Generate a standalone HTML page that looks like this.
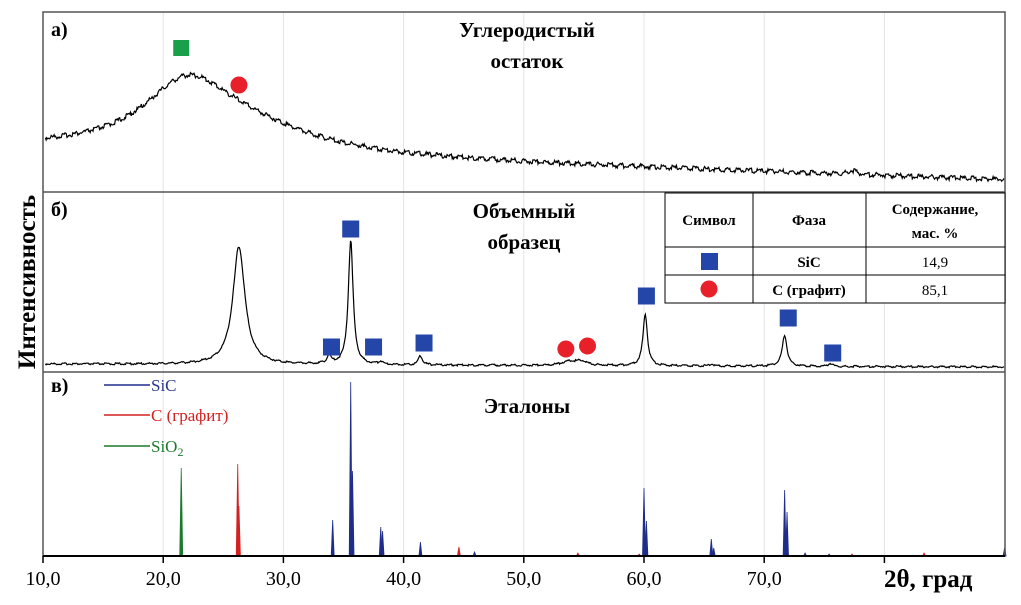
<!DOCTYPE html>
<html><head><meta charset="utf-8">
<style>
html,body{margin:0;padding:0;background:#fff;}
svg{display:block;font-family:"Liberation Serif","Noto Serif CJK SC",serif;}
</style></head>
<body>
<svg id="chart" width="1021" height="605" viewBox="0 0 1021 605" xmlns="http://www.w3.org/2000/svg">
<g id="grid"></g>
<g id="series"></g>
<g id="markers"></g>
<rect x="43" y="12" width="962" height="544" fill="none" stroke="#555" stroke-width="1.5"/>
<line x1="43" y1="192" x2="1005" y2="192" stroke="#555" stroke-width="1.5"/>
<line x1="43" y1="372" x2="1005" y2="372" stroke="#555" stroke-width="1.5"/>
<line x1="43" y1="556" x2="1005" y2="556" stroke="#000" stroke-width="2"/>
<g id="xticks"></g>
<text x="884" y="587" font-size="25" font-weight="bold">2θ, град</text>
<text transform="translate(35,282) rotate(-90)" text-anchor="middle" font-size="25" font-weight="bold">Интенсивность</text>
<text x="51" y="36" font-size="20" font-weight="bold">а)</text>
<text x="51" y="216" font-size="20" font-weight="bold">б)</text>
<text x="51" y="392" font-size="20" font-weight="bold">в)</text>
<text x="527" y="37" text-anchor="middle" font-size="21" font-weight="bold">Углеродистый</text>
<text x="527" y="68" text-anchor="middle" font-size="21" font-weight="bold">остаток</text>
<text x="524" y="218" text-anchor="middle" font-size="21" font-weight="bold">Объемный</text>
<text x="524" y="249" text-anchor="middle" font-size="21" font-weight="bold">образец</text>
<text x="527" y="413" text-anchor="middle" font-size="21" font-weight="bold">Эталоны</text>
<g>
<line x1="104" y1="385" x2="150" y2="385" stroke="#1f2d8a" stroke-width="1.5"/>
<text x="151" y="391" font-size="17" fill="#2a3590">SiC</text>
<line x1="104" y1="415" x2="150" y2="415" stroke="#d42020" stroke-width="1.5"/>
<text x="151" y="421" font-size="17" fill="#d42020">C (графит)</text>
<line x1="104" y1="446" x2="150" y2="446" stroke="#1d7a2c" stroke-width="1.5"/>
<text x="151" y="452" font-size="17" fill="#1d7a2c">SiO<tspan font-size="12" dy="4">2</tspan></text>
</g>
<g font-size="15">
<rect x="665" y="193" width="340" height="110" fill="#fff" stroke="#000" stroke-width="1"/>
<line x1="753" y1="193" x2="753" y2="303" stroke="#000"/>
<line x1="866" y1="193" x2="866" y2="303" stroke="#000"/>
<line x1="665" y1="247" x2="1005" y2="247" stroke="#000"/>
<line x1="665" y1="275" x2="1005" y2="275" stroke="#000"/>
<text x="709" y="225" text-anchor="middle" font-weight="bold">Символ</text>
<text x="809" y="225" text-anchor="middle" font-weight="bold">Фаза</text>
<text x="935" y="214" text-anchor="middle" font-weight="bold">Содержание,</text>
<text x="935" y="238" text-anchor="middle" font-weight="bold">мас. %</text>
<rect x="701" y="253" width="17" height="17" fill="#2446a8"/>
<text x="809" y="267" text-anchor="middle" font-weight="bold">SiC</text>
<text x="935" y="267" text-anchor="middle">14,9</text>
<circle cx="709" cy="289" r="8.5" fill="#e8202a"/>
<text x="809" y="295" text-anchor="middle" font-weight="bold">C (графит)</text>
<text x="935" y="295" text-anchor="middle">85,1</text>
</g>
</svg>
<script>
// ---- data ----
const xTicks = [10, 20, 30, 40, 50, 60, 70, 80];
const xTickLabels = ["10,0", "20,0", "30,0", "40,0", "50,0", "60,0", "70,0", ""];
// panel a: broad amorphous hump (pos, height px, width deg)
const aPeakPos = [22.0, 27.0, 77.3];
const aPeakHeight = [64, 22, 4];
const aPeakWidth = [4.5, 7, 0.4];
// panel b: sample peaks
const bPeakPos = [26.3, 33.8, 35.6, 38.1, 41.4, 53.8, 54.8, 60.1, 65.6, 71.7, 75.5];
const bPeakHeight = [118, 8, 124, 3, 9, 4, 4, 52, 2, 31, 3];
const bPeakWidth = [0.6, 0.2, 0.24, 0.2, 0.2, 0.8, 0.5, 0.22, 0.2, 0.24, 0.2];
// panel c: references (stick peaks)
const sicPos = [34.1, 35.6, 35.75, 38.1, 38.25, 41.4, 45.9, 60.0, 60.2, 65.6, 65.8, 71.7, 71.9, 73.4, 75.4, 90.0];
const sicHeight = [36, 174, 85, 29, 25, 14, 4, 68, 35, 17, 8, 66, 44, 3, 2, 8];
const grPos = [26.2, 26.3, 44.6, 54.5, 59.6, 77.3, 83.3];
const grHeight = [92, 50, 9, 3, 2, 2, 3];
const sioPos = [21.5, 35.6, 60.0];
const sioHeight = [88, 8, 2];
// markers
const sqA = [[21.5, 48]];
const circA = [[26.3, 85]];
const sqB = [[35.6, 229], [34.0, 347], [37.5, 347], [41.7, 343], [60.2, 296], [72.0, 318], [75.7, 353]];
const circB = [[53.5, 349], [55.3, 346]];

// ---- axes ----
const X = d => 43 + (d - 10) * 12.02;
const NS = "http://www.w3.org/2000/svg";
function mk(tag, attrs, parent) {
  const e = document.createElementNS(NS, tag);
  for (const k in attrs) e.setAttribute(k, attrs[k]);
  parent.appendChild(e); return e;
}
const grid = document.getElementById('grid');
const xt = document.getElementById('xticks');
xTicks.forEach((t, i) => {
  const g = mk('line', {x1: X(t), x2: X(t), y1: 12, y2: 556, stroke: '#e4e4e4', 'stroke-width': 1}, grid);
  
  
  const tk = mk('line', {x1: X(t), x2: X(t), y1: 556, y2: 563, stroke: '#000', 'stroke-width': 1.5}, xt);
  
  
  if (xTickLabels[i]) {
    const tx = mk('text', {x: X(t), y: 585, 'text-anchor': 'middle', 'font-size': 20}, xt);
    tx.textContent = xTickLabels[i];
    
    
  }
});

// small deterministic jitter for noisy look (visual texture only)
function jit(i, amp) { return amp * (Math.sin(i * 12.9898) * 43758.5453 % 1); }
function lor(x, p, h, w) { return h / (1 + Math.pow((x - p) / w, 2)); }

const ser = document.getElementById('series');
function curve(name, pos, hts, wds, base0, base1, noise) {
  let d = '';
  let i = 0;
  for (let x = 10.2; x <= 90; x += 0.06, i++) {
    let y = base0 + (base1 - base0) * (x - 10) / 80;
    for (let k = 0; k < pos.length; k++) y -= lor(x, pos[k], hts[k], wds[k]);
    y += jit(i, noise);
    d += (d ? 'L' : 'M') + X(x).toFixed(1) + ',' + y.toFixed(1);
  }
  const p = mk('path', {d: d, fill: 'none', stroke: '#000', 'stroke-width': 1.2}, ser);
  
  
}
curve('pattern-a-carbon-residue', aPeakPos, aPeakHeight, aPeakWidth, 149, 180, 2.5);
curve('pattern-b-bulk-sample', bPeakPos, bPeakHeight, bPeakWidth, 364, 367, 1.0);

function sticks(name, pos, hts, color) {
  pos.forEach((p, k) => {
    const x = X(p);
    const e = mk('path', {d: `M${x - 1.5},556 L${x},${556 - hts[k]} L${x + 1.5},556 Z`, fill: color, stroke: color, 'stroke-width': 0.8}, ser);
    
    
  });
}
sticks('reference-sio2-peak', sioPos, sioHeight, '#1d7a2c');
sticks('reference-graphite-peak', grPos, grHeight, '#d42020');
sticks('reference-sic-peak', sicPos, sicHeight, '#1f2d8a');

const mg = document.getElementById('markers');
sqA.forEach(([p, y]) => {
  const e = mk('rect', {x: X(p) - 8, y: y - 8, width: 16, height: 16, fill: '#1aa04a'}, mg);
  
  
});
sqB.forEach(([p, y]) => {
  const e = mk('rect', {x: X(p) - 8.5, y: y - 8.5, width: 17, height: 17, fill: '#2446a8'}, mg);
  
  
});
circA.concat(circB).forEach(([p, y]) => {
  const e = mk('circle', {cx: X(p), cy: y, r: 8.5, fill: '#e8202a'}, mg);
  
  
});
</script>
</body></html>
